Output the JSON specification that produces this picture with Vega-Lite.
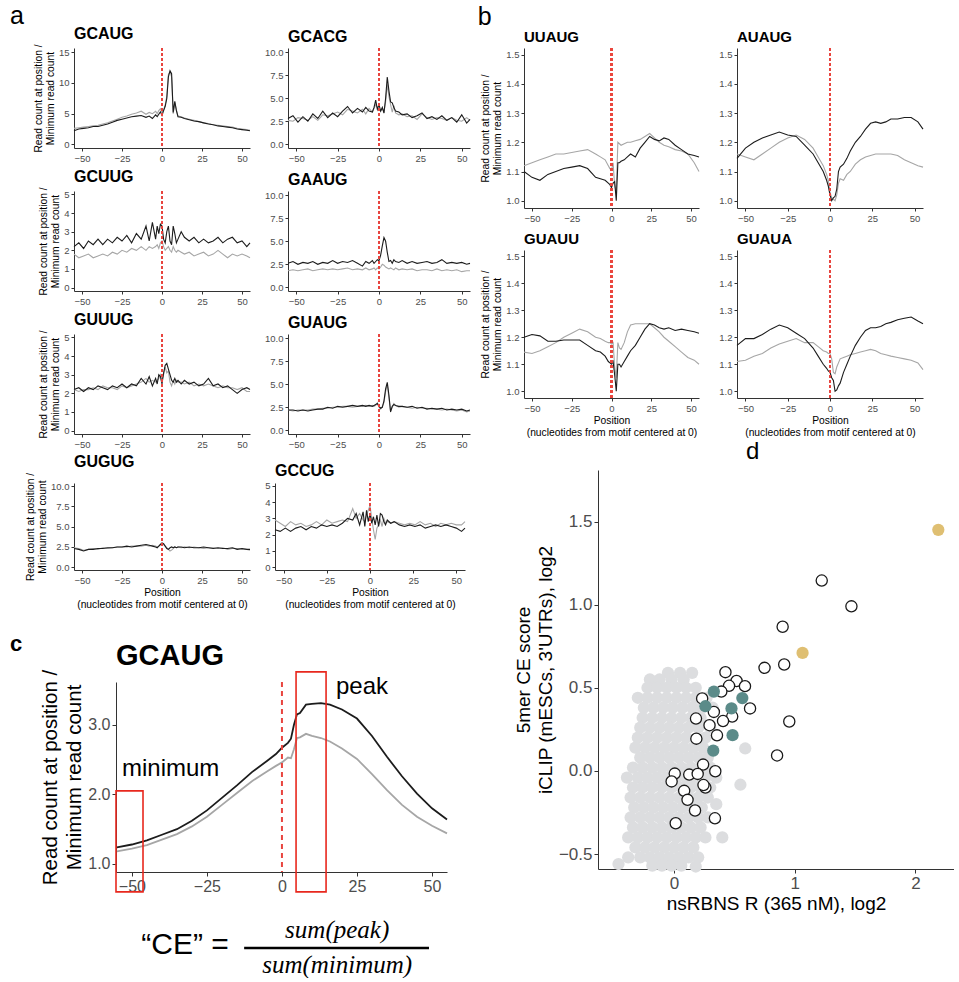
{
"$schema":"https://vega.github.io/schema/vega-lite/v6.json",
"padding":{"left":7,"top":3,"right":0,"bottom":0},
"config":{"font":"Liberation Sans","view":{"stroke":null},
"axis":{"grid":false,"domainColor":"#333333","tickColor":"#333333","labelColor":"#4d4d4d","titleColor":"#000000","titleFontWeight":"normal","labelFontSize":9.5,"titleFontSize":10.3,"tickSize":3,"labelPadding":2,"titlePadding":3,"labelOverlap":false,"titleLineHeight":12},
"title":{"anchor":"start","frame":"group","fontSize":16,"fontWeight":"bold","offset":2,"color":"#000000"}},
"datasets":{
"A":[
{"m":"GCAUG","p":-55,"k":2.2,"g":2.6},{"m":"GCAUG","p":-52,"k":2.5,"g":2.7},{"m":"GCAUG","p":-49,"k":2.6,"g":2.8},{"m":"GCAUG","p":-46,"k":2.7,"g":2.9},{"m":"GCAUG","p":-43,"k":2.9,"g":3.0},{"m":"GCAUG","p":-40,"k":2.9,"g":3.1},{"m":"GCAUG","p":-37,"k":3.1,"g":3.3},{"m":"GCAUG","p":-34,"k":3.3,"g":3.5},{"m":"GCAUG","p":-31,"k":3.6,"g":3.8},{"m":"GCAUG","p":-28,"k":3.9,"g":4.1},{"m":"GCAUG","p":-25,"k":4.1,"g":4.4},{"m":"GCAUG","p":-22,"k":4.3,"g":4.6},{"m":"GCAUG","p":-19,"k":4.5,"g":4.9},{"m":"GCAUG","p":-16,"k":4.6,"g":5.1},{"m":"GCAUG","p":-13,"k":4.7,"g":5.4},{"m":"GCAUG","p":-10,"k":4.4,"g":4.9},{"m":"GCAUG","p":-8,"k":4.6,"g":5.2},{"m":"GCAUG","p":-6,"k":4.2,"g":5.0},{"m":"GCAUG","p":-4,"k":4.8,"g":5.4},{"m":"GCAUG","p":-3,"k":4.5,"g":5.0},{"m":"GCAUG","p":-2,"k":4.9,"g":5.5},{"m":"GCAUG","p":-1,"k":5.3,"g":5.8},{"m":"GCAUG","p":0,"k":4.7,"g":5.2},{"m":"GCAUG","p":1,"k":5.5,"g":5.6},{"m":"GCAUG","p":2,"k":6.2,"g":6.4},{"m":"GCAUG","p":3,"k":7.5,"g":7.8},{"m":"GCAUG","p":4,"k":11.0,"g":11.4},{"m":"GCAUG","p":5,"k":12.0,"g":11.8},{"m":"GCAUG","p":6,"k":11.5,"g":11.0},{"m":"GCAUG","p":7,"k":5.2,"g":5.0},{"m":"GCAUG","p":8,"k":7.0,"g":6.8},{"m":"GCAUG","p":9,"k":5.5,"g":5.6},{"m":"GCAUG","p":10,"k":4.5,"g":4.6},{"m":"GCAUG","p":12,"k":4.4,"g":4.5},{"m":"GCAUG","p":14,"k":4.2,"g":4.3},{"m":"GCAUG","p":17,"k":4.0,"g":4.1},{"m":"GCAUG","p":20,"k":3.8,"g":3.9},{"m":"GCAUG","p":23,"k":3.7,"g":3.7},{"m":"GCAUG","p":26,"k":3.5,"g":3.5},{"m":"GCAUG","p":29,"k":3.3,"g":3.4},{"m":"GCAUG","p":32,"k":3.2,"g":3.2},{"m":"GCAUG","p":35,"k":3.0,"g":3.1},{"m":"GCAUG","p":38,"k":2.9,"g":3.0},{"m":"GCAUG","p":41,"k":2.8,"g":2.9},{"m":"GCAUG","p":44,"k":2.7,"g":2.8},{"m":"GCAUG","p":47,"k":2.5,"g":2.6},{"m":"GCAUG","p":50,"k":2.4,"g":2.5},{"m":"GCAUG","p":53,"k":2.3,"g":2.4},{"m":"GCAUG","p":55,"k":2.2,"g":2.3},
{"m":"GCACG","p":-55,"k":2.8,"g":2.6},{"m":"GCACG","p":-52,"k":3.1,"g":2.5},{"m":"GCACG","p":-49,"k":2.4,"g":2.9},{"m":"GCACG","p":-46,"k":3.0,"g":2.8},{"m":"GCACG","p":-43,"k":2.5,"g":2.6},{"m":"GCACG","p":-40,"k":3.3,"g":3.0},{"m":"GCACG","p":-37,"k":2.8,"g":2.6},{"m":"GCACG","p":-34,"k":3.6,"g":3.2},{"m":"GCACG","p":-31,"k":2.9,"g":3.1},{"m":"GCACG","p":-28,"k":3.4,"g":3.3},{"m":"GCACG","p":-25,"k":3.0,"g":3.5},{"m":"GCACG","p":-22,"k":3.6,"g":3.2},{"m":"GCACG","p":-19,"k":4.1,"g":3.8},{"m":"GCACG","p":-16,"k":3.4,"g":3.6},{"m":"GCACG","p":-13,"k":3.9,"g":3.4},{"m":"GCACG","p":-10,"k":3.5,"g":3.8},{"m":"GCACG","p":-8,"k":4.0,"g":3.3},{"m":"GCACG","p":-6,"k":3.6,"g":3.9},{"m":"GCACG","p":-4,"k":3.5,"g":3.5},{"m":"GCACG","p":-3,"k":4.0,"g":3.9},{"m":"GCACG","p":-2,"k":4.8,"g":4.3},{"m":"GCACG","p":-1,"k":3.8,"g":4.0},{"m":"GCACG","p":0,"k":4.3,"g":3.7},{"m":"GCACG","p":1,"k":3.6,"g":3.6},{"m":"GCACG","p":2,"k":4.0,"g":3.9},{"m":"GCACG","p":3,"k":3.4,"g":3.5},{"m":"GCACG","p":4,"k":5.0,"g":4.6},{"m":"GCACG","p":5,"k":7.3,"g":6.5},{"m":"GCACG","p":6,"k":5.8,"g":5.2},{"m":"GCACG","p":7,"k":4.6,"g":4.3},{"m":"GCACG","p":8,"k":4.5,"g":3.5},{"m":"GCACG","p":9,"k":4.0,"g":4.2},{"m":"GCACG","p":10,"k":3.6,"g":3.4},{"m":"GCACG","p":12,"k":3.5,"g":3.2},{"m":"GCACG","p":14,"k":3.2,"g":3.3},{"m":"GCACG","p":17,"k":3.3,"g":3.0},{"m":"GCACG","p":20,"k":2.9,"g":3.1},{"m":"GCACG","p":23,"k":3.1,"g":2.7},{"m":"GCACG","p":26,"k":3.4,"g":3.3},{"m":"GCACG","p":29,"k":2.8,"g":2.9},{"m":"GCACG","p":32,"k":3.0,"g":2.7},{"m":"GCACG","p":35,"k":2.7,"g":2.9},{"m":"GCACG","p":38,"k":3.1,"g":2.8},{"m":"GCACG","p":41,"k":2.6,"g":2.6},{"m":"GCACG","p":44,"k":2.9,"g":2.9},{"m":"GCACG","p":47,"k":2.4,"g":2.6},{"m":"GCACG","p":50,"k":3.2,"g":2.5},{"m":"GCACG","p":53,"k":2.3,"g":2.9},{"m":"GCACG","p":55,"k":2.7,"g":2.6},
{"m":"GCUUG","p":-55,"k":2.2,"g":1.8},{"m":"GCUUG","p":-52,"k":2.4,"g":1.6},{"m":"GCUUG","p":-49,"k":2.1,"g":1.7},{"m":"GCUUG","p":-46,"k":2.5,"g":1.8},{"m":"GCUUG","p":-43,"k":2.3,"g":1.6},{"m":"GCUUG","p":-40,"k":2.6,"g":1.7},{"m":"GCUUG","p":-37,"k":2.3,"g":1.8},{"m":"GCUUG","p":-34,"k":2.6,"g":1.7},{"m":"GCUUG","p":-31,"k":2.4,"g":1.9},{"m":"GCUUG","p":-28,"k":2.7,"g":1.8},{"m":"GCUUG","p":-25,"k":2.5,"g":2.0},{"m":"GCUUG","p":-22,"k":2.8,"g":1.9},{"m":"GCUUG","p":-19,"k":2.4,"g":2.1},{"m":"GCUUG","p":-16,"k":2.9,"g":2.0},{"m":"GCUUG","p":-13,"k":2.6,"g":2.2},{"m":"GCUUG","p":-10,"k":3.3,"g":2.0},{"m":"GCUUG","p":-8,"k":2.5,"g":2.2},{"m":"GCUUG","p":-6,"k":3.5,"g":2.1},{"m":"GCUUG","p":-4,"k":2.6,"g":2.2},{"m":"GCUUG","p":-3,"k":3.3,"g":2.3},{"m":"GCUUG","p":-2,"k":2.9,"g":2.1},{"m":"GCUUG","p":-1,"k":3.4,"g":2.4},{"m":"GCUUG","p":0,"k":3.3,"g":2.5},{"m":"GCUUG","p":1,"k":2.6,"g":2.2},{"m":"GCUUG","p":2,"k":2.4,"g":2.0},{"m":"GCUUG","p":3,"k":3.0,"g":2.1},{"m":"GCUUG","p":4,"k":3.3,"g":2.2},{"m":"GCUUG","p":5,"k":2.5,"g":2.0},{"m":"GCUUG","p":6,"k":2.3,"g":1.9},{"m":"GCUUG","p":7,"k":3.3,"g":2.2},{"m":"GCUUG","p":8,"k":2.9,"g":2.0},{"m":"GCUUG","p":9,"k":2.4,"g":1.9},{"m":"GCUUG","p":10,"k":2.6,"g":2.0},{"m":"GCUUG","p":12,"k":3.0,"g":1.9},{"m":"GCUUG","p":14,"k":2.7,"g":1.8},{"m":"GCUUG","p":17,"k":2.5,"g":1.9},{"m":"GCUUG","p":20,"k":2.7,"g":1.7},{"m":"GCUUG","p":23,"k":2.4,"g":1.8},{"m":"GCUUG","p":26,"k":2.6,"g":1.9},{"m":"GCUUG","p":29,"k":2.4,"g":1.7},{"m":"GCUUG","p":32,"k":2.5,"g":1.8},{"m":"GCUUG","p":35,"k":2.7,"g":2.0},{"m":"GCUUG","p":38,"k":2.4,"g":1.8},{"m":"GCUUG","p":41,"k":2.6,"g":1.6},{"m":"GCUUG","p":44,"k":2.7,"g":1.8},{"m":"GCUUG","p":47,"k":2.4,"g":1.7},{"m":"GCUUG","p":50,"k":2.5,"g":1.8},{"m":"GCUUG","p":53,"k":2.2,"g":1.7},{"m":"GCUUG","p":55,"k":2.4,"g":1.6},
{"m":"GAAUG","p":-55,"k":2.6,"g":1.8},{"m":"GAAUG","p":-52,"k":2.8,"g":1.9},{"m":"GAAUG","p":-49,"k":2.5,"g":1.8},{"m":"GAAUG","p":-46,"k":2.7,"g":1.9},{"m":"GAAUG","p":-43,"k":2.6,"g":2.0},{"m":"GAAUG","p":-40,"k":2.8,"g":1.8},{"m":"GAAUG","p":-37,"k":2.5,"g":1.9},{"m":"GAAUG","p":-34,"k":2.7,"g":2.0},{"m":"GAAUG","p":-31,"k":2.6,"g":1.9},{"m":"GAAUG","p":-28,"k":2.9,"g":2.0},{"m":"GAAUG","p":-25,"k":2.6,"g":1.9},{"m":"GAAUG","p":-22,"k":2.8,"g":2.0},{"m":"GAAUG","p":-19,"k":2.7,"g":2.1},{"m":"GAAUG","p":-16,"k":2.9,"g":1.9},{"m":"GAAUG","p":-13,"k":2.6,"g":2.0},{"m":"GAAUG","p":-10,"k":2.3,"g":1.9},{"m":"GAAUG","p":-8,"k":2.8,"g":2.1},{"m":"GAAUG","p":-6,"k":2.6,"g":1.9},{"m":"GAAUG","p":-4,"k":2.9,"g":2.0},{"m":"GAAUG","p":-3,"k":2.6,"g":2.1},{"m":"GAAUG","p":-2,"k":2.8,"g":1.9},{"m":"GAAUG","p":-1,"k":3.0,"g":2.1},{"m":"GAAUG","p":0,"k":2.9,"g":2.0},{"m":"GAAUG","p":1,"k":3.5,"g":2.2},{"m":"GAAUG","p":2,"k":4.5,"g":2.5},{"m":"GAAUG","p":3,"k":5.4,"g":2.4},{"m":"GAAUG","p":4,"k":5.0,"g":2.2},{"m":"GAAUG","p":5,"k":3.8,"g":2.1},{"m":"GAAUG","p":6,"k":2.8,"g":2.0},{"m":"GAAUG","p":7,"k":2.9,"g":2.1},{"m":"GAAUG","p":8,"k":2.6,"g":2.0},{"m":"GAAUG","p":9,"k":3.0,"g":1.9},{"m":"GAAUG","p":10,"k":2.8,"g":2.1},{"m":"GAAUG","p":12,"k":2.7,"g":1.9},{"m":"GAAUG","p":14,"k":2.9,"g":2.0},{"m":"GAAUG","p":17,"k":2.6,"g":1.9},{"m":"GAAUG","p":20,"k":2.8,"g":2.0},{"m":"GAAUG","p":23,"k":2.6,"g":1.8},{"m":"GAAUG","p":26,"k":2.7,"g":1.9},{"m":"GAAUG","p":29,"k":2.8,"g":1.9},{"m":"GAAUG","p":32,"k":2.6,"g":1.8},{"m":"GAAUG","p":35,"k":2.7,"g":2.0},{"m":"GAAUG","p":38,"k":3.0,"g":1.8},{"m":"GAAUG","p":41,"k":2.6,"g":1.9},{"m":"GAAUG","p":44,"k":2.7,"g":1.8},{"m":"GAAUG","p":47,"k":2.6,"g":1.9},{"m":"GAAUG","p":50,"k":2.7,"g":1.7},{"m":"GAAUG","p":53,"k":2.5,"g":1.8},{"m":"GAAUG","p":55,"k":2.6,"g":1.8},
{"m":"GUUUG","p":-55,"k":2.2,"g":2.2},{"m":"GUUUG","p":-52,"k":2.3,"g":2.1},{"m":"GUUUG","p":-49,"k":2.1,"g":2.2},{"m":"GUUUG","p":-46,"k":2.3,"g":2.2},{"m":"GUUUG","p":-43,"k":2.2,"g":2.3},{"m":"GUUUG","p":-40,"k":2.4,"g":2.2},{"m":"GUUUG","p":-37,"k":2.3,"g":2.4},{"m":"GUUUG","p":-34,"k":2.2,"g":2.3},{"m":"GUUUG","p":-31,"k":2.4,"g":2.3},{"m":"GUUUG","p":-28,"k":2.3,"g":2.2},{"m":"GUUUG","p":-25,"k":2.5,"g":2.4},{"m":"GUUUG","p":-22,"k":2.3,"g":2.3},{"m":"GUUUG","p":-19,"k":2.5,"g":2.4},{"m":"GUUUG","p":-16,"k":2.4,"g":2.5},{"m":"GUUUG","p":-13,"k":2.8,"g":2.6},{"m":"GUUUG","p":-10,"k":2.5,"g":2.8},{"m":"GUUUG","p":-8,"k":2.9,"g":2.6},{"m":"GUUUG","p":-6,"k":2.4,"g":2.7},{"m":"GUUUG","p":-4,"k":2.8,"g":2.6},{"m":"GUUUG","p":-3,"k":2.5,"g":2.7},{"m":"GUUUG","p":-2,"k":3.0,"g":2.8},{"m":"GUUUG","p":-1,"k":2.9,"g":3.0},{"m":"GUUUG","p":0,"k":2.5,"g":2.7},{"m":"GUUUG","p":1,"k":3.1,"g":3.0},{"m":"GUUUG","p":2,"k":3.5,"g":3.4},{"m":"GUUUG","p":3,"k":3.6,"g":3.1},{"m":"GUUUG","p":4,"k":3.3,"g":3.2},{"m":"GUUUG","p":5,"k":3.0,"g":2.6},{"m":"GUUUG","p":6,"k":2.7,"g":2.4},{"m":"GUUUG","p":7,"k":2.6,"g":2.7},{"m":"GUUUG","p":8,"k":2.8,"g":2.5},{"m":"GUUUG","p":9,"k":2.6,"g":2.7},{"m":"GUUUG","p":10,"k":2.7,"g":2.6},{"m":"GUUUG","p":12,"k":2.5,"g":2.6},{"m":"GUUUG","p":14,"k":2.7,"g":2.5},{"m":"GUUUG","p":17,"k":2.5,"g":2.6},{"m":"GUUUG","p":20,"k":2.6,"g":2.4},{"m":"GUUUG","p":23,"k":2.4,"g":2.5},{"m":"GUUUG","p":26,"k":2.5,"g":2.4},{"m":"GUUUG","p":29,"k":2.8,"g":2.5},{"m":"GUUUG","p":32,"k":2.4,"g":2.4},{"m":"GUUUG","p":35,"k":2.5,"g":2.3},{"m":"GUUUG","p":38,"k":2.3,"g":2.4},{"m":"GUUUG","p":41,"k":2.4,"g":2.3},{"m":"GUUUG","p":44,"k":2.2,"g":2.3},{"m":"GUUUG","p":47,"k":2.0,"g":2.2},{"m":"GUUUG","p":50,"k":2.2,"g":2.3},{"m":"GUUUG","p":53,"k":2.3,"g":2.1},{"m":"GUUUG","p":55,"k":2.2,"g":2.1},
{"m":"GUAUG","p":-55,"k":2.2,"g":2.2},{"m":"GUAUG","p":-52,"k":2.2,"g":2.1},{"m":"GUAUG","p":-49,"k":2.1,"g":2.2},{"m":"GUAUG","p":-46,"k":2.2,"g":2.2},{"m":"GUAUG","p":-43,"k":2.1,"g":2.2},{"m":"GUAUG","p":-40,"k":2.2,"g":2.3},{"m":"GUAUG","p":-37,"k":2.3,"g":2.3},{"m":"GUAUG","p":-34,"k":2.3,"g":2.4},{"m":"GUAUG","p":-31,"k":2.5,"g":2.4},{"m":"GUAUG","p":-28,"k":2.4,"g":2.5},{"m":"GUAUG","p":-25,"k":2.6,"g":2.5},{"m":"GUAUG","p":-22,"k":2.5,"g":2.6},{"m":"GUAUG","p":-19,"k":2.6,"g":2.6},{"m":"GUAUG","p":-16,"k":2.7,"g":2.5},{"m":"GUAUG","p":-13,"k":2.6,"g":2.6},{"m":"GUAUG","p":-10,"k":2.7,"g":2.6},{"m":"GUAUG","p":-8,"k":2.6,"g":2.7},{"m":"GUAUG","p":-6,"k":2.7,"g":2.6},{"m":"GUAUG","p":-4,"k":2.6,"g":2.7},{"m":"GUAUG","p":-3,"k":2.7,"g":2.6},{"m":"GUAUG","p":-2,"k":2.8,"g":2.7},{"m":"GUAUG","p":-1,"k":2.9,"g":3.0},{"m":"GUAUG","p":0,"k":2.6,"g":2.5},{"m":"GUAUG","p":1,"k":2.4,"g":2.3},{"m":"GUAUG","p":2,"k":2.5,"g":2.6},{"m":"GUAUG","p":3,"k":3.2,"g":3.0},{"m":"GUAUG","p":4,"k":4.5,"g":4.2},{"m":"GUAUG","p":5,"k":5.2,"g":5.0},{"m":"GUAUG","p":6,"k":3.8,"g":3.5},{"m":"GUAUG","p":7,"k":2.0,"g":2.1},{"m":"GUAUG","p":8,"k":2.6,"g":2.5},{"m":"GUAUG","p":9,"k":2.8,"g":2.9},{"m":"GUAUG","p":10,"k":2.7,"g":2.7},{"m":"GUAUG","p":12,"k":2.6,"g":2.5},{"m":"GUAUG","p":14,"k":2.6,"g":2.6},{"m":"GUAUG","p":17,"k":2.5,"g":2.5},{"m":"GUAUG","p":20,"k":2.6,"g":2.4},{"m":"GUAUG","p":23,"k":2.4,"g":2.5},{"m":"GUAUG","p":26,"k":2.5,"g":2.4},{"m":"GUAUG","p":29,"k":2.3,"g":2.4},{"m":"GUAUG","p":32,"k":2.4,"g":2.3},{"m":"GUAUG","p":35,"k":2.3,"g":2.3},{"m":"GUAUG","p":38,"k":2.4,"g":2.2},{"m":"GUAUG","p":41,"k":2.2,"g":2.3},{"m":"GUAUG","p":44,"k":2.3,"g":2.2},{"m":"GUAUG","p":47,"k":2.2,"g":2.1},{"m":"GUAUG","p":50,"k":2.3,"g":2.2},{"m":"GUAUG","p":53,"k":2.1,"g":2.0},{"m":"GUAUG","p":55,"k":2.2,"g":2.1},
{"m":"GUGUG","p":-55,"k":2.3,"g":2.4},{"m":"GUGUG","p":-52,"k":2.2,"g":2.3},{"m":"GUGUG","p":-49,"k":2.0,"g":2.1},{"m":"GUGUG","p":-46,"k":2.2,"g":2.2},{"m":"GUGUG","p":-43,"k":2.2,"g":2.3},{"m":"GUGUG","p":-40,"k":2.3,"g":2.2},{"m":"GUGUG","p":-37,"k":2.3,"g":2.4},{"m":"GUGUG","p":-34,"k":2.4,"g":2.3},{"m":"GUGUG","p":-31,"k":2.4,"g":2.4},{"m":"GUGUG","p":-28,"k":2.5,"g":2.5},{"m":"GUGUG","p":-25,"k":2.5,"g":2.5},{"m":"GUGUG","p":-22,"k":2.6,"g":2.5},{"m":"GUGUG","p":-19,"k":2.5,"g":2.6},{"m":"GUGUG","p":-16,"k":2.6,"g":2.6},{"m":"GUGUG","p":-13,"k":2.7,"g":2.6},{"m":"GUGUG","p":-10,"k":2.8,"g":2.7},{"m":"GUGUG","p":-8,"k":2.7,"g":2.6},{"m":"GUGUG","p":-6,"k":2.6,"g":2.7},{"m":"GUGUG","p":-4,"k":2.5,"g":2.6},{"m":"GUGUG","p":-3,"k":2.4,"g":2.5},{"m":"GUGUG","p":-2,"k":2.6,"g":2.6},{"m":"GUGUG","p":-1,"k":2.8,"g":2.8},{"m":"GUGUG","p":0,"k":3.0,"g":2.9},{"m":"GUGUG","p":1,"k":2.9,"g":2.8},{"m":"GUGUG","p":2,"k":2.6,"g":2.6},{"m":"GUGUG","p":3,"k":2.3,"g":2.4},{"m":"GUGUG","p":4,"k":2.2,"g":2.2},{"m":"GUGUG","p":5,"k":2.4,"g":2.0},{"m":"GUGUG","p":6,"k":2.5,"g":2.1},{"m":"GUGUG","p":7,"k":2.4,"g":2.3},{"m":"GUGUG","p":8,"k":2.5,"g":2.5},{"m":"GUGUG","p":9,"k":2.4,"g":2.4},{"m":"GUGUG","p":10,"k":2.5,"g":2.5},{"m":"GUGUG","p":12,"k":2.5,"g":2.4},{"m":"GUGUG","p":14,"k":2.4,"g":2.5},{"m":"GUGUG","p":17,"k":2.5,"g":2.4},{"m":"GUGUG","p":20,"k":2.4,"g":2.5},{"m":"GUGUG","p":23,"k":2.4,"g":2.4},{"m":"GUGUG","p":26,"k":2.5,"g":2.3},{"m":"GUGUG","p":29,"k":2.4,"g":2.4},{"m":"GUGUG","p":32,"k":2.3,"g":2.4},{"m":"GUGUG","p":35,"k":2.4,"g":2.3},{"m":"GUGUG","p":38,"k":2.3,"g":2.4},{"m":"GUGUG","p":41,"k":2.3,"g":2.2},{"m":"GUGUG","p":44,"k":2.4,"g":2.3},{"m":"GUGUG","p":47,"k":2.2,"g":2.3},{"m":"GUGUG","p":50,"k":2.3,"g":2.2},{"m":"GUGUG","p":53,"k":2.2,"g":2.2},{"m":"GUGUG","p":55,"k":2.2,"g":2.1},
{"m":"GCCUG","p":-55,"k":2.3,"g":2.9},{"m":"GCCUG","p":-52,"k":2.2,"g":2.7},{"m":"GCCUG","p":-49,"k":2.4,"g":2.5},{"m":"GCCUG","p":-46,"k":2.2,"g":2.8},{"m":"GCCUG","p":-43,"k":2.4,"g":2.6},{"m":"GCCUG","p":-40,"k":2.5,"g":2.7},{"m":"GCCUG","p":-37,"k":2.3,"g":2.5},{"m":"GCCUG","p":-34,"k":2.5,"g":2.6},{"m":"GCCUG","p":-31,"k":2.4,"g":2.8},{"m":"GCCUG","p":-28,"k":2.6,"g":2.6},{"m":"GCCUG","p":-25,"k":2.5,"g":2.9},{"m":"GCCUG","p":-22,"k":2.6,"g":2.7},{"m":"GCCUG","p":-19,"k":2.5,"g":2.8},{"m":"GCCUG","p":-16,"k":2.7,"g":2.9},{"m":"GCCUG","p":-13,"k":3.0,"g":2.8},{"m":"GCCUG","p":-10,"k":2.9,"g":3.6},{"m":"GCCUG","p":-8,"k":3.3,"g":3.0},{"m":"GCCUG","p":-6,"k":2.6,"g":3.3},{"m":"GCCUG","p":-4,"k":3.4,"g":2.9},{"m":"GCCUG","p":-3,"k":2.5,"g":2.8},{"m":"GCCUG","p":-2,"k":3.5,"g":3.2},{"m":"GCCUG","p":-1,"k":2.8,"g":3.5},{"m":"GCCUG","p":0,"k":3.3,"g":3.8},{"m":"GCCUG","p":1,"k":2.7,"g":3.0},{"m":"GCCUG","p":2,"k":3.1,"g":2.3},{"m":"GCCUG","p":3,"k":2.6,"g":1.7},{"m":"GCCUG","p":4,"k":3.2,"g":2.4},{"m":"GCCUG","p":5,"k":2.5,"g":2.6},{"m":"GCCUG","p":6,"k":3.3,"g":2.9},{"m":"GCCUG","p":7,"k":3.2,"g":2.5},{"m":"GCCUG","p":8,"k":2.8,"g":3.0},{"m":"GCCUG","p":9,"k":2.6,"g":2.7},{"m":"GCCUG","p":10,"k":2.9,"g":2.8},{"m":"GCCUG","p":12,"k":2.7,"g":2.7},{"m":"GCCUG","p":14,"k":2.8,"g":2.8},{"m":"GCCUG","p":17,"k":2.6,"g":2.7},{"m":"GCCUG","p":20,"k":2.5,"g":2.6},{"m":"GCCUG","p":23,"k":2.6,"g":2.7},{"m":"GCCUG","p":26,"k":2.5,"g":2.6},{"m":"GCCUG","p":29,"k":2.6,"g":2.8},{"m":"GCCUG","p":32,"k":2.4,"g":2.6},{"m":"GCCUG","p":35,"k":2.5,"g":2.7},{"m":"GCCUG","p":38,"k":2.6,"g":2.5},{"m":"GCCUG","p":41,"k":2.5,"g":2.7},{"m":"GCCUG","p":44,"k":2.6,"g":2.6},{"m":"GCCUG","p":47,"k":2.5,"g":2.7},{"m":"GCCUG","p":50,"k":2.4,"g":2.6},{"m":"GCCUG","p":53,"k":2.2,"g":2.6},{"m":"GCCUG","p":55,"k":2.4,"g":2.8}
],
"B":[
{"m":"UUAUG","p":-55,"k":1.10,"g":1.12},{"m":"UUAUG","p":-50,"k":1.08,"g":1.13},{"m":"UUAUG","p":-45,"k":1.07,"g":1.14},{"m":"UUAUG","p":-40,"k":1.09,"g":1.15},{"m":"UUAUG","p":-35,"k":1.10,"g":1.16},{"m":"UUAUG","p":-30,"k":1.11,"g":1.16},{"m":"UUAUG","p":-25,"k":1.115,"g":1.165},{"m":"UUAUG","p":-20,"k":1.12,"g":1.17},{"m":"UUAUG","p":-15,"k":1.11,"g":1.175},{"m":"UUAUG","p":-10,"k":1.08,"g":1.16},{"m":"UUAUG","p":-7,"k":1.075,"g":1.15},{"m":"UUAUG","p":-4,"k":1.07,"g":1.14},{"m":"UUAUG","p":-2,"k":1.06,"g":1.12},{"m":"UUAUG","p":-1,"k":1.055,"g":1.11},{"m":"UUAUG","p":0,"k":1.045,"g":1.105},{"m":"UUAUG","p":1,"k":1.06,"g":1.13},{"m":"UUAUG","p":2,"k":1.065,"g":1.05},{"m":"UUAUG","p":3,"k":1.00,"g":1.03},{"m":"UUAUG","p":4,"k":1.13,"g":1.20},{"m":"UUAUG","p":5,"k":1.13,"g":1.195},{"m":"UUAUG","p":6,"k":1.135,"g":1.19},{"m":"UUAUG","p":8,"k":1.14,"g":1.195},{"m":"UUAUG","p":10,"k":1.15,"g":1.20},{"m":"UUAUG","p":12,"k":1.16,"g":1.20},{"m":"UUAUG","p":15,"k":1.15,"g":1.205},{"m":"UUAUG","p":18,"k":1.18,"g":1.21},{"m":"UUAUG","p":21,"k":1.20,"g":1.22},{"m":"UUAUG","p":24,"k":1.22,"g":1.23},{"m":"UUAUG","p":27,"k":1.21,"g":1.215},{"m":"UUAUG","p":30,"k":1.205,"g":1.20},{"m":"UUAUG","p":33,"k":1.215,"g":1.19},{"m":"UUAUG","p":36,"k":1.21,"g":1.185},{"m":"UUAUG","p":40,"k":1.19,"g":1.175},{"m":"UUAUG","p":44,"k":1.175,"g":1.17},{"m":"UUAUG","p":48,"k":1.16,"g":1.16},{"m":"UUAUG","p":52,"k":1.155,"g":1.13},{"m":"UUAUG","p":55,"k":1.15,"g":1.10},
{"m":"AUAUG","p":-55,"k":1.145,"g":1.16},{"m":"AUAUG","p":-50,"k":1.18,"g":1.15},{"m":"AUAUG","p":-45,"k":1.20,"g":1.14},{"m":"AUAUG","p":-40,"k":1.215,"g":1.16},{"m":"AUAUG","p":-35,"k":1.225,"g":1.18},{"m":"AUAUG","p":-30,"k":1.235,"g":1.20},{"m":"AUAUG","p":-25,"k":1.225,"g":1.215},{"m":"AUAUG","p":-20,"k":1.22,"g":1.225},{"m":"AUAUG","p":-15,"k":1.19,"g":1.21},{"m":"AUAUG","p":-10,"k":1.16,"g":1.18},{"m":"AUAUG","p":-7,"k":1.13,"g":1.15},{"m":"AUAUG","p":-4,"k":1.10,"g":1.12},{"m":"AUAUG","p":-2,"k":1.07,"g":1.09},{"m":"AUAUG","p":-1,"k":1.05,"g":1.07},{"m":"AUAUG","p":0,"k":1.02,"g":1.03},{"m":"AUAUG","p":1,"k":1.00,"g":1.01},{"m":"AUAUG","p":2,"k":1.01,"g":1.005},{"m":"AUAUG","p":3,"k":1.015,"g":1.00},{"m":"AUAUG","p":4,"k":1.04,"g":1.02},{"m":"AUAUG","p":5,"k":1.10,"g":1.06},{"m":"AUAUG","p":6,"k":1.115,"g":1.075},{"m":"AUAUG","p":8,"k":1.125,"g":1.07},{"m":"AUAUG","p":10,"k":1.145,"g":1.09},{"m":"AUAUG","p":12,"k":1.17,"g":1.10},{"m":"AUAUG","p":15,"k":1.20,"g":1.125},{"m":"AUAUG","p":18,"k":1.22,"g":1.14},{"m":"AUAUG","p":21,"k":1.245,"g":1.15},{"m":"AUAUG","p":24,"k":1.265,"g":1.155},{"m":"AUAUG","p":27,"k":1.27,"g":1.16},{"m":"AUAUG","p":30,"k":1.265,"g":1.16},{"m":"AUAUG","p":33,"k":1.27,"g":1.16},{"m":"AUAUG","p":36,"k":1.28,"g":1.16},{"m":"AUAUG","p":40,"k":1.28,"g":1.155},{"m":"AUAUG","p":44,"k":1.285,"g":1.14},{"m":"AUAUG","p":48,"k":1.285,"g":1.13},{"m":"AUAUG","p":52,"k":1.27,"g":1.12},{"m":"AUAUG","p":55,"k":1.245,"g":1.115},
{"m":"GUAUU","p":-55,"k":1.20,"g":1.145},{"m":"GUAUU","p":-50,"k":1.21,"g":1.14},{"m":"GUAUU","p":-45,"k":1.205,"g":1.15},{"m":"GUAUU","p":-40,"k":1.185,"g":1.165},{"m":"GUAUU","p":-35,"k":1.185,"g":1.18},{"m":"GUAUU","p":-30,"k":1.19,"g":1.20},{"m":"GUAUU","p":-25,"k":1.19,"g":1.215},{"m":"GUAUU","p":-20,"k":1.19,"g":1.23},{"m":"GUAUU","p":-15,"k":1.17,"g":1.22},{"m":"GUAUU","p":-10,"k":1.15,"g":1.20},{"m":"GUAUU","p":-7,"k":1.145,"g":1.195},{"m":"GUAUU","p":-4,"k":1.13,"g":1.185},{"m":"GUAUU","p":-2,"k":1.11,"g":1.18},{"m":"GUAUU","p":-1,"k":1.105,"g":1.18},{"m":"GUAUU","p":0,"k":1.10,"g":1.175},{"m":"GUAUU","p":1,"k":1.11,"g":1.18},{"m":"GUAUU","p":2,"k":1.06,"g":1.09},{"m":"GUAUU","p":3,"k":1.00,"g":1.05},{"m":"GUAUU","p":4,"k":1.10,"g":1.18},{"m":"GUAUU","p":5,"k":1.10,"g":1.16},{"m":"GUAUU","p":6,"k":1.09,"g":1.155},{"m":"GUAUU","p":8,"k":1.11,"g":1.18},{"m":"GUAUU","p":10,"k":1.13,"g":1.22},{"m":"GUAUU","p":12,"k":1.15,"g":1.245},{"m":"GUAUU","p":15,"k":1.17,"g":1.25},{"m":"GUAUU","p":18,"k":1.20,"g":1.25},{"m":"GUAUU","p":21,"k":1.23,"g":1.25},{"m":"GUAUU","p":24,"k":1.25,"g":1.25},{"m":"GUAUU","p":27,"k":1.245,"g":1.235},{"m":"GUAUU","p":30,"k":1.235,"g":1.22},{"m":"GUAUU","p":33,"k":1.23,"g":1.20},{"m":"GUAUU","p":36,"k":1.235,"g":1.185},{"m":"GUAUU","p":40,"k":1.225,"g":1.165},{"m":"GUAUU","p":44,"k":1.23,"g":1.145},{"m":"GUAUU","p":48,"k":1.225,"g":1.125},{"m":"GUAUU","p":52,"k":1.22,"g":1.115},{"m":"GUAUU","p":55,"k":1.215,"g":1.10},
{"m":"GUAUA","p":-55,"k":1.17,"g":1.11},{"m":"GUAUA","p":-50,"k":1.195,"g":1.115},{"m":"GUAUA","p":-45,"k":1.195,"g":1.13},{"m":"GUAUA","p":-40,"k":1.21,"g":1.14},{"m":"GUAUA","p":-35,"k":1.23,"g":1.16},{"m":"GUAUA","p":-30,"k":1.245,"g":1.175},{"m":"GUAUA","p":-25,"k":1.235,"g":1.185},{"m":"GUAUA","p":-20,"k":1.215,"g":1.195},{"m":"GUAUA","p":-15,"k":1.195,"g":1.18},{"m":"GUAUA","p":-10,"k":1.16,"g":1.18},{"m":"GUAUA","p":-7,"k":1.13,"g":1.165},{"m":"GUAUA","p":-4,"k":1.10,"g":1.15},{"m":"GUAUA","p":-2,"k":1.085,"g":1.145},{"m":"GUAUA","p":-1,"k":1.075,"g":1.14},{"m":"GUAUA","p":0,"k":1.07,"g":1.14},{"m":"GUAUA","p":1,"k":1.05,"g":1.12},{"m":"GUAUA","p":2,"k":1.04,"g":1.07},{"m":"GUAUA","p":3,"k":1.00,"g":1.065},{"m":"GUAUA","p":4,"k":1.005,"g":1.09},{"m":"GUAUA","p":5,"k":1.02,"g":1.105},{"m":"GUAUA","p":6,"k":1.03,"g":1.12},{"m":"GUAUA","p":8,"k":1.07,"g":1.125},{"m":"GUAUA","p":10,"k":1.10,"g":1.13},{"m":"GUAUA","p":12,"k":1.13,"g":1.135},{"m":"GUAUA","p":15,"k":1.17,"g":1.14},{"m":"GUAUA","p":18,"k":1.20,"g":1.145},{"m":"GUAUA","p":21,"k":1.225,"g":1.15},{"m":"GUAUA","p":24,"k":1.235,"g":1.155},{"m":"GUAUA","p":27,"k":1.235,"g":1.15},{"m":"GUAUA","p":30,"k":1.24,"g":1.14},{"m":"GUAUA","p":33,"k":1.25,"g":1.135},{"m":"GUAUA","p":36,"k":1.255,"g":1.13},{"m":"GUAUA","p":40,"k":1.265,"g":1.125},{"m":"GUAUA","p":44,"k":1.27,"g":1.12},{"m":"GUAUA","p":48,"k":1.275,"g":1.115},{"m":"GUAUA","p":52,"k":1.26,"g":1.105},{"m":"GUAUA","p":55,"k":1.25,"g":1.08}
],
"C":[
{"p":-55,"k":1.24,"g":1.18},{"p":-50,"k":1.28,"g":1.22},{"p":-45,"k":1.34,"g":1.27},{"p":-40,"k":1.42,"g":1.35},{"p":-35,"k":1.50,"g":1.43},{"p":-30,"k":1.62,"g":1.54},{"p":-25,"k":1.77,"g":1.68},{"p":-20,"k":1.95,"g":1.85},{"p":-15,"k":2.13,"g":2.02},{"p":-10,"k":2.32,"g":2.19},{"p":-5,"k":2.48,"g":2.33},{"p":-2,"k":2.58,"g":2.41},{"p":0,"k":2.67,"g":2.46},{"p":2,"k":2.74,"g":2.53},{"p":3,"k":2.80,"g":2.52},{"p":4,"k":3.00,"g":2.65},{"p":5,"k":3.15,"g":2.81},{"p":6,"k":3.17,"g":2.82},{"p":8,"k":3.29,"g":2.87},{"p":10,"k":3.30,"g":2.84},{"p":13,"k":3.31,"g":2.81},{"p":16,"k":3.29,"g":2.76},{"p":20,"k":3.22,"g":2.66},{"p":25,"k":3.09,"g":2.51},{"p":30,"k":2.84,"g":2.29},{"p":35,"k":2.54,"g":2.06},{"p":40,"k":2.26,"g":1.85},{"p":45,"k":2.01,"g":1.68},{"p":50,"k":1.80,"g":1.55},{"p":55,"k":1.64,"g":1.44}
],
"D":[
{"x":-0.05,"y":0.59,"t":"n"},{"x":0.05,"y":0.59,"t":"n"},{"x":0.15,"y":0.59,"t":"n"},
{"x":-0.2,"y":0.55,"t":"n"},{"x":-0.12,"y":0.55,"t":"n"},{"x":-0.02,"y":0.55,"t":"n"},{"x":0.08,"y":0.55,"t":"n"},
{"x":-0.22,"y":0.5,"t":"n"},{"x":-0.14,"y":0.5,"t":"n"},{"x":-0.06,"y":0.5,"t":"n"},{"x":0.02,"y":0.5,"t":"n"},{"x":0.10,"y":0.5,"t":"n"},{"x":0.18,"y":0.5,"t":"n"},
{"x":-0.30,"y":0.44,"t":"n"},{"x":-0.22,"y":0.44,"t":"n"},{"x":-0.14,"y":0.44,"t":"n"},{"x":-0.06,"y":0.44,"t":"n"},{"x":0.02,"y":0.44,"t":"n"},{"x":0.10,"y":0.44,"t":"n"},{"x":0.18,"y":0.44,"t":"n"},{"x":0.27,"y":0.44,"t":"n"},
{"x":-0.25,"y":0.38,"t":"n"},{"x":-0.17,"y":0.38,"t":"n"},{"x":-0.09,"y":0.38,"t":"n"},{"x":-0.01,"y":0.38,"t":"n"},{"x":0.07,"y":0.38,"t":"n"},{"x":0.15,"y":0.38,"t":"n"},{"x":0.23,"y":0.38,"t":"n"},{"x":0.32,"y":0.38,"t":"n"},
{"x":-0.26,"y":0.32,"t":"n"},{"x":-0.18,"y":0.32,"t":"n"},{"x":-0.10,"y":0.32,"t":"n"},{"x":-0.02,"y":0.32,"t":"n"},{"x":0.06,"y":0.32,"t":"n"},{"x":0.14,"y":0.32,"t":"n"},{"x":0.22,"y":0.32,"t":"n"},
{"x":-0.28,"y":0.26,"t":"n"},{"x":-0.20,"y":0.26,"t":"n"},{"x":-0.12,"y":0.26,"t":"n"},{"x":-0.04,"y":0.26,"t":"n"},{"x":0.04,"y":0.26,"t":"n"},{"x":0.12,"y":0.26,"t":"n"},{"x":0.20,"y":0.26,"t":"n"},{"x":0.30,"y":0.26,"t":"n"},
{"x":-0.30,"y":0.2,"t":"n"},{"x":-0.22,"y":0.2,"t":"n"},{"x":-0.14,"y":0.2,"t":"n"},{"x":-0.06,"y":0.2,"t":"n"},{"x":0.02,"y":0.2,"t":"n"},{"x":0.10,"y":0.2,"t":"n"},{"x":0.26,"y":0.2,"t":"n"},
{"x":-0.32,"y":0.14,"t":"n"},{"x":-0.24,"y":0.14,"t":"n"},{"x":-0.16,"y":0.14,"t":"n"},{"x":-0.08,"y":0.14,"t":"n"},{"x":0.0,"y":0.14,"t":"n"},{"x":0.08,"y":0.14,"t":"n"},{"x":0.16,"y":0.14,"t":"n"},{"x":0.24,"y":0.14,"t":"n"},{"x":0.59,"y":0.135,"t":"n"},
{"x":-0.28,"y":0.08,"t":"n"},{"x":-0.20,"y":0.08,"t":"n"},{"x":-0.12,"y":0.08,"t":"n"},{"x":-0.04,"y":0.08,"t":"n"},{"x":0.04,"y":0.08,"t":"n"},{"x":0.12,"y":0.08,"t":"n"},{"x":0.20,"y":0.08,"t":"n"},{"x":0.28,"y":0.08,"t":"n"},
{"x":-0.34,"y":0.02,"t":"n"},{"x":-0.26,"y":0.02,"t":"n"},{"x":-0.18,"y":0.02,"t":"n"},{"x":-0.10,"y":0.02,"t":"n"},{"x":-0.02,"y":0.02,"t":"n"},{"x":0.06,"y":0.02,"t":"n"},{"x":0.14,"y":0.02,"t":"n"},{"x":0.22,"y":0.02,"t":"n"},{"x":0.30,"y":0.02,"t":"n"},
{"x":-0.39,"y":-0.04,"t":"n"},{"x":-0.30,"y":-0.04,"t":"n"},{"x":-0.22,"y":-0.04,"t":"n"},{"x":-0.14,"y":-0.04,"t":"n"},{"x":-0.06,"y":-0.04,"t":"n"},{"x":0.02,"y":-0.04,"t":"n"},{"x":0.10,"y":-0.04,"t":"n"},{"x":0.18,"y":-0.04,"t":"n"},{"x":0.26,"y":-0.04,"t":"n"},{"x":0.35,"y":-0.04,"t":"n"},{"x":0.55,"y":-0.083,"t":"n"},
{"x":-0.34,"y":-0.1,"t":"n"},{"x":-0.26,"y":-0.1,"t":"n"},{"x":-0.18,"y":-0.1,"t":"n"},{"x":-0.10,"y":-0.1,"t":"n"},{"x":-0.02,"y":-0.1,"t":"n"},{"x":0.06,"y":-0.1,"t":"n"},{"x":0.14,"y":-0.1,"t":"n"},{"x":0.22,"y":-0.1,"t":"n"},{"x":0.30,"y":-0.1,"t":"n"},
{"x":-0.36,"y":-0.16,"t":"n"},{"x":-0.28,"y":-0.16,"t":"n"},{"x":-0.20,"y":-0.16,"t":"n"},{"x":-0.12,"y":-0.16,"t":"n"},{"x":-0.04,"y":-0.16,"t":"n"},{"x":0.04,"y":-0.16,"t":"n"},{"x":0.12,"y":-0.16,"t":"n"},{"x":0.20,"y":-0.16,"t":"n"},{"x":0.28,"y":-0.16,"t":"n"},
{"x":-0.33,"y":-0.22,"t":"n"},{"x":-0.25,"y":-0.22,"t":"n"},{"x":-0.17,"y":-0.22,"t":"n"},{"x":-0.09,"y":-0.22,"t":"n"},{"x":-0.01,"y":-0.22,"t":"n"},{"x":0.07,"y":-0.22,"t":"n"},{"x":0.15,"y":-0.22,"t":"n"},{"x":0.23,"y":-0.22,"t":"n"},{"x":0.35,"y":-0.2,"t":"n"},
{"x":-0.36,"y":-0.28,"t":"n"},{"x":-0.28,"y":-0.28,"t":"n"},{"x":-0.20,"y":-0.28,"t":"n"},{"x":-0.12,"y":-0.28,"t":"n"},{"x":-0.04,"y":-0.28,"t":"n"},{"x":0.04,"y":-0.28,"t":"n"},{"x":0.12,"y":-0.28,"t":"n"},{"x":0.20,"y":-0.28,"t":"n"},{"x":0.28,"y":-0.28,"t":"n"},
{"x":-0.34,"y":-0.34,"t":"n"},{"x":-0.26,"y":-0.34,"t":"n"},{"x":-0.18,"y":-0.34,"t":"n"},{"x":-0.10,"y":-0.34,"t":"n"},{"x":-0.02,"y":-0.34,"t":"n"},{"x":0.06,"y":-0.34,"t":"n"},{"x":0.14,"y":-0.34,"t":"n"},{"x":0.22,"y":-0.34,"t":"n"},
{"x":-0.38,"y":-0.4,"t":"n"},{"x":-0.30,"y":-0.4,"t":"n"},{"x":-0.22,"y":-0.4,"t":"n"},{"x":-0.14,"y":-0.4,"t":"n"},{"x":-0.06,"y":-0.4,"t":"n"},{"x":0.02,"y":-0.4,"t":"n"},{"x":0.10,"y":-0.4,"t":"n"},{"x":0.18,"y":-0.4,"t":"n"},{"x":0.26,"y":-0.4,"t":"n"},{"x":0.40,"y":-0.4,"t":"n"},
{"x":-0.32,"y":-0.46,"t":"n"},{"x":-0.24,"y":-0.46,"t":"n"},{"x":-0.16,"y":-0.46,"t":"n"},{"x":-0.08,"y":-0.46,"t":"n"},{"x":0.0,"y":-0.46,"t":"n"},{"x":0.08,"y":-0.46,"t":"n"},{"x":0.16,"y":-0.46,"t":"n"},
{"x":-0.38,"y":-0.52,"t":"n"},{"x":-0.28,"y":-0.52,"t":"n"},{"x":-0.20,"y":-0.52,"t":"n"},{"x":-0.12,"y":-0.52,"t":"n"},{"x":-0.04,"y":-0.52,"t":"n"},{"x":0.04,"y":-0.52,"t":"n"},{"x":0.12,"y":-0.52,"t":"n"},{"x":0.20,"y":-0.52,"t":"n"},
{"x":-0.46,"y":-0.56,"t":"n"},{"x":-0.18,"y":-0.57,"t":"n"},{"x":-0.10,"y":-0.57,"t":"n"},{"x":-0.02,"y":-0.57,"t":"n"},{"x":0.06,"y":-0.57,"t":"n"},{"x":0.18,"y":-0.575,"t":"n"},
{"x":1.224,"y":1.145,"t":"w"},{"x":1.47,"y":0.99,"t":"w"},{"x":0.90,"y":0.867,"t":"w"},{"x":0.75,"y":0.62,"t":"w"},{"x":0.913,"y":0.64,"t":"w"},{"x":0.426,"y":0.594,"t":"w"},{"x":0.518,"y":0.541,"t":"w"},{"x":0.456,"y":0.512,"t":"w"},{"x":0.588,"y":0.51,"t":"w"},{"x":0.392,"y":0.477,"t":"w"},{"x":0.233,"y":0.436,"t":"w"},{"x":0.63,"y":0.376,"t":"w"},{"x":0.33,"y":0.355,"t":"w"},{"x":0.182,"y":0.315,"t":"w"},{"x":0.482,"y":0.327,"t":"w"},{"x":0.406,"y":0.30,"t":"w"},{"x":0.294,"y":0.275,"t":"w"},{"x":0.955,"y":0.297,"t":"w"},{"x":0.356,"y":0.214,"t":"w"},{"x":0.185,"y":0.194,"t":"w"},{"x":0.854,"y":0.093,"t":"w"},{"x":0.241,"y":0.038,"t":"w"},{"x":0.006,"y":-0.016,"t":"w"},{"x":0.126,"y":-0.022,"t":"w"},{"x":0.196,"y":-0.018,"t":"w"},{"x":0.342,"y":-0.002,"t":"w"},{"x":-0.02,"y":-0.063,"t":"w"},{"x":0.084,"y":-0.12,"t":"w"},{"x":0.26,"y":-0.10,"t":"w"},{"x":0.244,"y":-0.085,"t":"w"},{"x":0.112,"y":-0.174,"t":"w"},{"x":0.174,"y":-0.238,"t":"w"},{"x":0.339,"y":-0.285,"t":"w"},{"x":0.014,"y":-0.315,"t":"w"},
{"x":0.33,"y":0.477,"t":"t"},{"x":0.26,"y":0.389,"t":"t"},{"x":0.566,"y":0.438,"t":"t"},{"x":0.476,"y":0.376,"t":"t"},{"x":0.485,"y":0.215,"t":"t"},{"x":0.325,"y":0.122,"t":"t"},
{"x":2.19,"y":1.45,"t":"y"},{"x":1.065,"y":0.71,"t":"y"}
]},
"spacing":-13,
"hconcat":[
{"spacing":22,"vconcat":[
 {"spacing":1,"hconcat":[
  {"width":1,"height":1,"title":{"text":"a","fontSize":25,"fontWeight":"normal","offset":17},"data":{"values":[{}]},"mark":{"type":"point","opacity":0},"encoding":{}},
  {"spacing":5,"vconcat":[
   {"spacing":11,"hconcat":[
    {"width":176,"height":100,"title":"GCAUG","data":{"name":"A"},"transform":[{"filter":"datum.m==='GCAUG'"},{"fold":["g","k"],"as":["s","v"]}],
     "layer":[{"mark":{"type":"line","strokeWidth":1.1},"encoding":{"x":{"field":"p","type":"quantitative","scale":{"domain":[-55,55],"nice":false},"axis":{"values":[-50,-25,0,25,50],"title":null}},"y":{"field":"v","type":"quantitative","scale":{"domain":[-0.6,15.7],"nice":false,"zero":false},"axis":{"values":[0,5,10,15],"format":"d","title":["Read count at position /","Minimum read count"]}},"color":{"field":"s","type":"nominal","scale":{"domain":["g","k"],"range":["#a6a6a6","#1c1c1c"]},"legend":null}}},
      {"mark":{"type":"rule","color":"#e8453f","strokeDash":[3,2],"strokeWidth":1.2},"encoding":{"x":{"datum":0}}}]},
    {"width":182,"height":100,"title":"GCACG","data":{"name":"A"},"transform":[{"filter":"datum.m==='GCACG'"},{"fold":["g","k"],"as":["s","v"]}],
     "layer":[{"mark":{"type":"line","strokeWidth":1.1},"encoding":{"x":{"field":"p","type":"quantitative","scale":{"domain":[-55,55],"nice":false},"axis":{"values":[-50,-25,0,25,50],"title":null}},"y":{"field":"v","type":"quantitative","scale":{"domain":[-0.4,10.45],"nice":false,"zero":false},"axis":{"values":[0,2.5,5,7.5,10],"format":".1f","title":null}},"color":{"field":"s","type":"nominal","scale":{"domain":["g","k"],"range":["#a6a6a6","#1c1c1c"]},"legend":null}}},
      {"mark":{"type":"rule","color":"#e8453f","strokeDash":[3,2],"strokeWidth":1.2},"encoding":{"x":{"datum":0}}}]}
   ]},
   {"spacing":11,"hconcat":[
    {"width":176,"height":100,"title":"GCUUG","data":{"name":"A"},"transform":[{"filter":"datum.m==='GCUUG'"},{"fold":["g","k"],"as":["s","v"]}],
     "layer":[{"mark":{"type":"line","strokeWidth":1.1},"encoding":{"x":{"field":"p","type":"quantitative","scale":{"domain":[-55,55],"nice":false},"axis":{"values":[-50,-25,0,25,50],"title":null}},"y":{"field":"v","type":"quantitative","scale":{"domain":[-0.18,5.18],"nice":false,"zero":false},"axis":{"values":[0,1,2,3,4,5],"format":"d","title":["Read count at position /","Minimum read count"]}},"color":{"field":"s","type":"nominal","scale":{"domain":["g","k"],"range":["#a6a6a6","#1c1c1c"]},"legend":null}}},
      {"mark":{"type":"rule","color":"#e8453f","strokeDash":[3,2],"strokeWidth":1.2},"encoding":{"x":{"datum":0}}}]},
    {"width":182,"height":100,"title":"GAAUG","data":{"name":"A"},"transform":[{"filter":"datum.m==='GAAUG'"},{"fold":["g","k"],"as":["s","v"]}],
     "layer":[{"mark":{"type":"line","strokeWidth":1.1},"encoding":{"x":{"field":"p","type":"quantitative","scale":{"domain":[-55,55],"nice":false},"axis":{"values":[-50,-25,0,25,50],"title":null}},"y":{"field":"v","type":"quantitative","scale":{"domain":[-0.4,10.45],"nice":false,"zero":false},"axis":{"values":[0,2.5,5,7.5,10],"format":".1f","title":null}},"color":{"field":"s","type":"nominal","scale":{"domain":["g","k"],"range":["#a6a6a6","#1c1c1c"]},"legend":null}}},
      {"mark":{"type":"rule","color":"#e8453f","strokeDash":[3,2],"strokeWidth":1.2},"encoding":{"x":{"datum":0}}}]}
   ]},
   {"spacing":11,"hconcat":[
    {"width":176,"height":100,"title":"GUUUG","data":{"name":"A"},"transform":[{"filter":"datum.m==='GUUUG'"},{"fold":["g","k"],"as":["s","v"]}],
     "layer":[{"mark":{"type":"line","strokeWidth":1.1},"encoding":{"x":{"field":"p","type":"quantitative","scale":{"domain":[-55,55],"nice":false},"axis":{"values":[-50,-25,0,25,50],"title":null}},"y":{"field":"v","type":"quantitative","scale":{"domain":[-0.18,5.18],"nice":false,"zero":false},"axis":{"values":[0,1,2,3,4,5],"format":"d","title":["Read count at position /","Minimum read count"]}},"color":{"field":"s","type":"nominal","scale":{"domain":["g","k"],"range":["#a6a6a6","#1c1c1c"]},"legend":null}}},
      {"mark":{"type":"rule","color":"#e8453f","strokeDash":[3,2],"strokeWidth":1.2},"encoding":{"x":{"datum":0}}}]},
    {"width":182,"height":100,"title":"GUAUG","data":{"name":"A"},"transform":[{"filter":"datum.m==='GUAUG'"},{"fold":["g","k"],"as":["s","v"]}],
     "layer":[{"mark":{"type":"line","strokeWidth":1.1},"encoding":{"x":{"field":"p","type":"quantitative","scale":{"domain":[-55,55],"nice":false},"axis":{"values":[-50,-25,0,25,50],"title":null}},"y":{"field":"v","type":"quantitative","scale":{"domain":[-0.4,10.45],"nice":false,"zero":false},"axis":{"values":[0,2.5,5,7.5,10],"format":".1f","title":null}},"color":{"field":"s","type":"nominal","scale":{"domain":["g","k"],"range":["#a6a6a6","#1c1c1c"]},"legend":null}}},
      {"mark":{"type":"rule","color":"#e8453f","strokeDash":[3,2],"strokeWidth":1.2},"encoding":{"x":{"datum":0}}}]}
   ]},
   {"spacing":11,"hconcat":[
    {"width":176,"height":87,"title":"GUGUG","data":{"name":"A"},"transform":[{"filter":"datum.m==='GUGUG'"},{"fold":["g","k"],"as":["s","v"]}],
     "layer":[{"mark":{"type":"line","strokeWidth":1.1},"encoding":{"x":{"field":"p","type":"quantitative","scale":{"domain":[-55,55],"nice":false},"axis":{"values":[-50,-25,0,25,50],"title":["Position","(nucleotides from motif centered at 0)"]}},"y":{"field":"v","type":"quantitative","scale":{"domain":[-0.35,10.4],"nice":false,"zero":false},"axis":{"values":[0,2.5,5,7.5,10],"format":".1f","title":["Read count at position /","Minimum read count"]}},"color":{"field":"s","type":"nominal","scale":{"domain":["g","k"],"range":["#a6a6a6","#1c1c1c"]},"legend":null}}},
      {"mark":{"type":"rule","color":"#e8453f","strokeDash":[3,2],"strokeWidth":1.2},"encoding":{"x":{"datum":0}}}]},
    {"width":190,"height":87,"title":"GCCUG","data":{"name":"A"},"transform":[{"filter":"datum.m==='GCCUG'"},{"fold":["g","k"],"as":["s","v"]}],
     "layer":[{"mark":{"type":"line","strokeWidth":1.1},"encoding":{"x":{"field":"p","type":"quantitative","scale":{"domain":[-55,55],"nice":false},"axis":{"values":[-50,-25,0,25,50],"title":["Position","(nucleotides from motif centered at 0)"]}},"y":{"field":"v","type":"quantitative","scale":{"domain":[-0.18,5.18],"nice":false,"zero":false},"axis":{"values":[0,1,2,3,4,5],"format":"d","title":null}},"color":{"field":"s","type":"nominal","scale":{"domain":["g","k"],"range":["#a6a6a6","#1c1c1c"]},"legend":null}}},
      {"mark":{"type":"rule","color":"#e8453f","strokeDash":[3,2],"strokeWidth":1.2},"encoding":{"x":{"datum":0}}}]}
   ]}
  ]}
 ]},
 {"spacing":17,"hconcat":[
  {"width":1,"height":1,"title":{"text":"c","fontSize":22,"fontWeight":"bold","offset":24},"data":{"values":[{}]},"mark":{"type":"point","opacity":0},"encoding":{}},
  {"width":331,"height":190,"title":{"text":"GCAUG","fontSize":29,"offset":-2},"data":{"name":"C"},
    "layer":[
     {"transform":[{"fold":["g","k"],"as":["s","v"]}],"mark":{"type":"line","strokeWidth":1.8},"encoding":{"x":{"field":"p","type":"quantitative","scale":{"domain":[-55.3,55],"nice":false},"axis":{"values":[-50,-25,0,25,50],"title":null,"labelFontSize":16,"tickSize":4}},"y":{"field":"v","type":"quantitative","scale":{"domain":[0.885,3.615],"nice":false,"zero":false},"axis":{"values":[1,1.5,2,2.5,3,3.5],"format":".1f","labelFontSize":16,"tickSize":4,"titleFontSize":20.5,"titleLineHeight":24,"title":["Read count at position /","Minimum read count"]}},"color":{"field":"s","type":"nominal","scale":{"domain":["g","k"],"range":["#a6a6a6","#1c1c1c"]},"legend":null}}},
     {"data":{"values":[{}]},"mark":{"type":"rule","color":"#e8453f","strokeDash":[5,4],"strokeWidth":2},"encoding":{"x":{"datum":0}}},
     {"data":{"values":[{}]},"mark":{"type":"rect","fillOpacity":0,"stroke":"#e8281e","strokeWidth":1.6},"encoding":{"x":{"datum":-55.3},"x2":{"datum":-46.3},"y":{"datum":0.6},"y2":{"datum":2.05}}},
     {"data":{"values":[{}]},"mark":{"type":"rect","fillOpacity":0,"stroke":"#e8281e","strokeWidth":1.6},"encoding":{"x":{"datum":4.7},"x2":{"datum":14.7},"y":{"datum":0.6},"y2":{"datum":3.76}}},
     {"data":{"values":[{}]},"mark":{"type":"text","text":"minimum","fontSize":24,"align":"left","baseline":"alphabetic"},"encoding":{"x":{"datum":-53.3},"y":{"datum":2.26}}},
     {"data":{"values":[{}]},"mark":{"type":"text","text":"peak","fontSize":24,"align":"left","baseline":"alphabetic"},"encoding":{"x":{"datum":18},"y":{"datum":3.44}}},
     {"data":{"values":[{}]},"mark":{"type":"text","text":"“CE” =","fontSize":30,"align":"center","baseline":"middle"},"encoding":{"x":{"datum":-32.3},"y":{"datum":-0.16}}},
     {"data":{"values":[{}]},"mark":{"type":"rule","strokeWidth":2.5,"color":"#000000"},"encoding":{"x":{"datum":-12.6},"x2":{"datum":49},"y":{"datum":-0.207}}},
     {"data":{"values":[{}]},"mark":{"type":"text","text":"sum(peak)","font":"Liberation Serif","fontStyle":"italic","fontSize":25,"align":"center","baseline":"middle"},"encoding":{"x":{"datum":18.4},"y":{"datum":0.05}}},
     {"data":{"values":[{}]},"mark":{"type":"text","text":"sum(minimum)","font":"Liberation Serif","fontStyle":"italic","fontSize":25,"align":"center","baseline":"middle"},"encoding":{"x":{"datum":18.4},"y":{"datum":-0.45}}}
    ]}
 ]}
]},
{"spacing":2,"vconcat":[
 {"spacing":0,"hconcat":[
  {"width":1,"height":1,"data":{"values":[{}]},"mark":{"type":"point","opacity":0},"encoding":{}},
  {"title":{"text":"b","fontSize":25,"fontWeight":"normal","frame":"bounds","anchor":"start","dx":-3,"offset":0},
   "spacing":9,
   "vconcat":[
   {"spacing":16,"hconcat":[
    {"width":175,"height":160,"title":{"text":"UUAUG","fontSize":15},"data":{"name":"B"},"transform":[{"filter":"datum.m==='UUAUG'"},{"fold":["g","k"],"as":["s","v"]}],
     "layer":[{"mark":{"type":"line","strokeWidth":1.1},"encoding":{"x":{"field":"p","type":"quantitative","scale":{"domain":[-55,55],"nice":false},"axis":{"values":[-50,-25,0,25,50],"title":null}},"y":{"field":"v","type":"quantitative","scale":{"domain":[0.975,1.523],"nice":false,"zero":false},"axis":{"values":[1,1.1,1.2,1.3,1.4,1.5],"format":".1f","title":["Read count at position /","Minimum read count"]}},"color":{"field":"s","type":"nominal","scale":{"domain":["g","k"],"range":["#a6a6a6","#1c1c1c"]},"legend":null}}},
      {"mark":{"type":"rule","color":"#e8453f","strokeDash":[3,2],"strokeWidth":1.2},"encoding":{"x":{"datum":0}}}]},
    {"width":186,"height":160,"title":{"text":"AUAUG","fontSize":15},"data":{"name":"B"},"transform":[{"filter":"datum.m==='AUAUG'"},{"fold":["g","k"],"as":["s","v"]}],
     "layer":[{"mark":{"type":"line","strokeWidth":1.1},"encoding":{"x":{"field":"p","type":"quantitative","scale":{"domain":[-55,55],"nice":false},"axis":{"values":[-50,-25,0,25,50],"title":null}},"y":{"field":"v","type":"quantitative","scale":{"domain":[0.975,1.523],"nice":false,"zero":false},"axis":{"values":[1,1.1,1.2,1.3,1.4,1.5],"format":".1f","title":null}},"color":{"field":"s","type":"nominal","scale":{"domain":["g","k"],"range":["#a6a6a6","#1c1c1c"]},"legend":null}}},
      {"mark":{"type":"rule","color":"#e8453f","strokeDash":[3,2],"strokeWidth":1.2},"encoding":{"x":{"datum":0}}}]}
   ]},
   {"spacing":16,"hconcat":[
    {"width":175,"height":148,"title":{"text":"GUAUU","fontSize":15},"data":{"name":"B"},"transform":[{"filter":"datum.m==='GUAUU'"},{"fold":["g","k"],"as":["s","v"]}],
     "layer":[{"mark":{"type":"line","strokeWidth":1.1},"encoding":{"x":{"field":"p","type":"quantitative","scale":{"domain":[-55,55],"nice":false},"axis":{"values":[-50,-25,0,25,50],"title":["Position","(nucleotides from motif centered at 0)"]}},"y":{"field":"v","type":"quantitative","scale":{"domain":[0.975,1.523],"nice":false,"zero":false},"axis":{"values":[1,1.1,1.2,1.3,1.4,1.5],"format":".1f","title":["Read count at position /","Minimum read count"]}},"color":{"field":"s","type":"nominal","scale":{"domain":["g","k"],"range":["#a6a6a6","#1c1c1c"]},"legend":null}}},
      {"mark":{"type":"rule","color":"#e8453f","strokeDash":[3,2],"strokeWidth":1.2},"encoding":{"x":{"datum":0}}}]},
    {"width":186,"height":148,"title":{"text":"GUAUA","fontSize":15},"data":{"name":"B"},"transform":[{"filter":"datum.m==='GUAUA'"},{"fold":["g","k"],"as":["s","v"]}],
     "layer":[{"mark":{"type":"line","strokeWidth":1.1},"encoding":{"x":{"field":"p","type":"quantitative","scale":{"domain":[-55,55],"nice":false},"axis":{"values":[-50,-25,0,25,50],"title":["Position","(nucleotides from motif centered at 0)"]}},"y":{"field":"v","type":"quantitative","scale":{"domain":[0.975,1.523],"nice":false,"zero":false},"axis":{"values":[1,1.1,1.2,1.3,1.4,1.5],"format":".1f","title":null}},"color":{"field":"s","type":"nominal","scale":{"domain":["g","k"],"range":["#a6a6a6","#1c1c1c"]},"legend":null}}},
      {"mark":{"type":"rule","color":"#e8453f","strokeDash":[3,2],"strokeWidth":1.2},"encoding":{"x":{"datum":0}}}]}
   ]}
  ]}
 ]},
 {"spacing":37,"hconcat":[
  {"width":1,"height":1,"data":{"values":[{}]},"mark":{"type":"point","opacity":0},"encoding":{}},
  {"width":356,"height":399,"title":{"text":"d","fontSize":24,"fontWeight":"normal","anchor":"start","frame":"group","dx":148,"offset":6},
   "data":{"name":"D"},
   "encoding":{"x":{"field":"x","type":"quantitative","scale":{"domain":[-0.63,2.32],"nice":false,"zero":false},"axis":{"values":[0,1,2],"format":"d","labelFontSize":17,"titleFontSize":19,"tickSize":4,"title":"nsRBNS R (365 nM), log2"}},
               "y":{"field":"y","type":"quantitative","scale":{"domain":[-0.59,1.81],"nice":false,"zero":false},"axis":{"values":[-0.5,0,0.5,1,1.5],"format":".1f","labelFontSize":17,"titleFontSize":19,"titleLineHeight":22,"tickSize":4,"title":["5mer CE score","iCLIP (mESCs, 3'UTRs), log2"]}}},
   "layer":[
    {"transform":[{"filter":"datum.t==='n'"}],"mark":{"type":"circle","size":150,"color":"#dcdddf","opacity":1}},
    {"transform":[{"filter":"datum.t==='w'"}],"mark":{"type":"circle","size":125,"fill":"#ffffff","stroke":"#1a1a1a","strokeWidth":1.3,"opacity":1}},
    {"transform":[{"filter":"datum.t==='t'"}],"mark":{"type":"circle","size":150,"color":"#5b8b89","opacity":1}},
    {"transform":[{"filter":"datum.t==='y'"}],"mark":{"type":"circle","size":150,"color":"#dfbf72","opacity":1}}
   ]}
 ]}
]}
]
}
